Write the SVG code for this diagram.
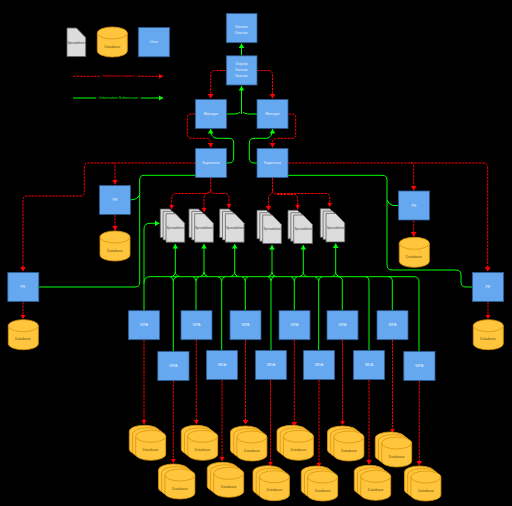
<svg xmlns="http://www.w3.org/2000/svg" xmlns:xlink="http://www.w3.org/1999/xlink" width="512" height="506" viewBox="0 0 512 506">
<style>
text{font-family:"Liberation Sans",Arial,sans-serif;font-size:3.7px;text-anchor:middle;dominant-baseline:central}
.n{fill:#66a8f0;stroke:#2c5a8e;stroke-width:.8}
.nt{fill:#e8f2ff}
.d path,.c path{fill:#ffc53d;stroke:#d9960a;stroke-width:.8}
.dt{fill:#6b5210}
.s{fill:#dcdcdc;stroke:#666;stroke-width:.8}
.st{fill:#444;font-size:3.2px}
.r{fill:none;stroke:#f00;stroke-width:1;stroke-dasharray:2.4 1;marker-end:url(#ar)}
.r0{fill:none;stroke:#f00;stroke-width:1;stroke-dasharray:2.4 1}
.g{fill:none;stroke:#0f0;stroke-width:1;marker-end:url(#ag)}
.g0{fill:none;stroke:#0f0;stroke-width:1}
</style>
<defs>
<marker id="ar" markerUnits="userSpaceOnUse" markerWidth="5" markerHeight="6" refX="4.5" refY="3" orient="auto"><path d="M0,0.2L4.5,3L0,5.8Z" fill="#f00"/></marker>
<marker id="ag" markerUnits="userSpaceOnUse" markerWidth="5" markerHeight="6" refX="4.5" refY="3" orient="auto"><path d="M0,0.2L4.5,3L0,5.8Z" fill="#0f0"/></marker>
<g id="cyl" class="d"><path d="M0,6A15,6 0 0 1 30,6V24A15,6 0 0 1 0,24Z"/><path d="M0,6A15,6 0 0 0 30,6" fill="none"/></g>
<g id="stk" class="c">
<path d="M0,6A15,6 0 0 1 30,6V24A15,6 0 0 1 0,24Z"/>
<path d="M3.2,8.5A15,6 0 0 1 33.2,8.5V26.5A15,6 0 0 1 3.2,26.5Z"/>
<path d="M6.4,11A15,6 0 0 1 36.4,11V29A15,6 0 0 1 6.4,29Z"/><path d="M6.4,11A15,6 0 0 0 36.4,11" fill="none"/>
</g>
<polygon id="sh" class="s" points="0,0 9.5,0 18.7,9.5 18.7,28.5 0,28.5"/>
<g id="ss"><use xlink:href="#sh"/><use xlink:href="#sh" x="2.8" y="2.4"/><use xlink:href="#sh" x="5.7" y="4.7"/></g>
</defs>
<rect width="512" height="506" fill="#000"/>

<g id="connectors">
<path class="r0" d="M73.3,76.3H100"/><path class="r" d="M138,76.3H163"/>
<path class="g0" d="M73,98H96"/><path class="g" d="M141,98H163"/>
<path class="g" d="M241.5,55.5V43.5"/>
<path class="r" d="M225.5,70.5H215Q210.7,70.5 210.7,75V98.5"/>
<path class="r" d="M257.5,70.5H268Q272.5,70.5 272.5,75V98.5"/>
<path class="g0" d="M227,114H234Q239,114 240,112"/>
<path class="g0" d="M257,114H249Q244,114 243,112"/>
<path class="g" d="M241.5,114V86"/>
<path class="r" d="M195,114H191Q187.3,114 187.3,118V134Q187.3,138.3 191,138.3H205Q210.7,138.3 210.7,143V147.5"/>
<path class="r" d="M288.5,114H292Q295.7,114 295.7,118V134Q295.7,138.3 292,138.3H278Q272.5,138.3 272.5,143V147.5"/>
<path class="g" d="M227,163H229Q233.7,163 233.7,158V143Q233.7,138.3 229,138.3H216Q210.7,137 210.7,129"/>
<path class="g" d="M257,163H254Q249.3,163 249.3,158V143Q249.3,138.3 254,138.3H267Q272.5,137 272.5,129"/>
<path class="r" d="M195,163H88Q84.3,163 84.3,167V192Q84.3,196 80,196H27Q23,196 23,200V271.5"/>
<path class="r" d="M113,163Q115,163 115,166V184.5"/>
<path class="r" d="M115,214.5V230.5"/>
<path class="r" d="M23,302V319"/>
<path class="g" d="M130.5,199.7H133Q137,199.7 139.7,195V180Q139.7,175.3 144,175.3H203Q210.7,175.3 210.7,167"/>
<path class="g0" d="M39,287H135Q139.7,287 139.7,282V195"/>
<path class="r" d="M210.7,178V190Q210.7,193.5 207,193.5H176Q171.7,193.5 171.7,198V209"/>
<path class="r" d="M210.7,190Q211,193.5 215,193.5H225Q229,193.5 229,198V208"/>
<path class="r" d="M210,192Q204,193 204,198V212"/>
<path class="r" d="M272.5,178V190Q272.5,194.5 270,195Q268.5,195.5 268.5,198V210.5"/>
<path class="r" d="M272.5,190Q273,194 277,194.5H294Q297.7,195 297.7,199V209"/>
<path class="r" d="M277,193.5H326Q329.7,193.5 329.7,197V207"/>
<path class="r" d="M288.5,163H483Q487.7,163 487.7,168V271.5"/>
<path class="r" d="M411,163Q413.7,163 413.7,166V190.5"/>
<path class="r" d="M413.7,220.5V236.5"/>
<path class="r" d="M488,302V319"/>
<path class="g" d="M472,287H466Q461,287 461,282V275Q461,270 456,270H392Q387,270 387,265V180Q387,175.3 382,175.3H280Q272.5,175.3 272.5,167"/>
<path class="g0" d="M398,205.5H393Q388,204 387,200"/>
<path class="g" d="M144,310V229Q144,223.3 150,223.3H159.5"/>
<path class="g0" d="M144,283Q144,276.7 150,276.7H414Q419,276.7 419,282V352"/>
<path class="g0" d="M173.3,352V281Q173.3,278 170,276.7M173.3,281Q173.3,278 177,276.7"/>
<path class="g0" d="M196,310V281Q196,278 193,276.7M196,281Q196,278 199,276.7"/>
<path class="g0" d="M221.7,350V281Q221.7,278 218,276.7M221.7,281Q221.7,278 225,276.7"/>
<path class="g0" d="M245.3,310V281Q245.3,278 242,276.7M245.3,281Q245.3,278 248,276.7"/>
<path class="g0" d="M271,350V281Q271,278 268,276.7M271,281Q271,278 274,276.7"/>
<path class="g0" d="M294.3,310V281Q294.3,278 291,276.7M294.3,281Q294.3,278 297,276.7"/>
<path class="g0" d="M318.7,350V281Q318.7,278 315,276.7M318.7,281Q318.7,278 322,276.7"/>
<path class="g0" d="M342.3,310V281Q342.3,276.7 338,276.7"/>
<path class="g0" d="M369,350V281Q369,276.7 365,276.7"/>
<path class="g0" d="M392.3,310V281Q392.3,276.7 388,276.7"/>
<path class="g" d="M175.3,272V244"/><path class="g0" d="M175.3,272Q175.3,275.5 171,276.7M175.3,272Q175.3,275.5 180,276.7"/>
<path class="g" d="M204,272V244"/><path class="g0" d="M204,272Q204,275.5 200,276.7M204,272Q204,275.5 208,276.7"/>
<path class="g" d="M234.7,272V244"/><path class="g0" d="M234.7,272Q234.7,275.5 230,276.7M234.7,272Q234.7,275.5 239,276.7"/>
<path class="g" d="M272,272V245"/><path class="g0" d="M272,272Q272,275.5 268,276.7M272,272Q272,275.5 276,276.7"/>
<path class="g" d="M303.3,272V245"/><path class="g0" d="M303.3,272Q303.3,275.5 299,276.7M303.3,272Q303.3,275.5 307.5,276.7"/>
<path class="g" d="M335.7,272V243.5"/><path class="g0" d="M335.7,272Q335.7,275.5 331.5,276.7M335.7,272Q335.7,275.5 340,276.7"/>
<path class="r" d="M144,340V424"/>
<path class="r" d="M196.3,340V424"/>
<path class="r" d="M245.5,340V424.5"/>
<path class="r" d="M294.3,340V426.5"/>
<path class="r" d="M342.5,340V425"/>
<path class="r" d="M392.5,340V433"/>
<path class="r" d="M173.3,381V463"/>
<path class="r" d="M222,380V461"/>
<path class="r" d="M270.5,380V466"/>
<path class="r" d="M319,380V467"/>
<path class="r" d="M369,380V464.5"/>
<path class="r" d="M419.3,381V465.5"/>
</g>

<g id="legend-doc"><use xlink:href="#sh" x="67" y="28"/><text class="st" x="76.5" y="43">Spreadsheet</text></g>
<g id="legend-db"><use xlink:href="#cyl" x="97.3" y="27"/><text class="dt" x="112.3" y="47">Database</text></g>
<g id="legend-user"><rect class="n" x="138.3" y="27.5" width="31.2" height="29.3"/><text class="nt" x="154" y="42">User</text></g>
<g id="legend-request"><text x="118.5" y="76.3" fill="#e00000">Information request</text></g>
<g id="legend-submission"><text x="118.5" y="98" fill="#00e000">Information Submission</text></g>

<g id="division-director"><rect class="n" x="226.3" y="13.5" width="30.7" height="29.2"/><text class="nt" x="241.6" y="27">Division</text><text class="nt" x="241.6" y="32.7">Director</text></g>
<g id="deputy"><rect class="n" x="226.3" y="55.8" width="30.7" height="29.2"/><text class="nt" x="241.6" y="64">Deputy</text><text class="nt" x="241.6" y="70">Division</text><text class="nt" x="241.6" y="75.5">Director</text></g>
<g id="manager-l"><rect class="n" x="195.4" y="99.4" width="31.2" height="29"/><text class="nt" x="211" y="114">Manager</text></g>
<g id="manager-r"><rect class="n" x="257" y="99.4" width="31" height="29"/><text class="nt" x="272.5" y="114">Manager</text></g>
<g id="supervisor-l"><rect class="n" x="195.4" y="148.4" width="31.2" height="29.2"/><text class="nt" x="211" y="163.3">Supervisor</text></g>
<g id="supervisor-r"><rect class="n" x="257" y="148.4" width="31" height="29.2"/><text class="nt" x="272.5" y="163.3">Supervisor</text></g>

<g id="pe-1"><rect class="n" x="99.4" y="185.4" width="31" height="29"/><text class="nt" x="115" y="200">PE</text></g>
<g id="db-1"><use xlink:href="#cyl" x="100" y="231"/><text class="dt" x="115" y="251">Database</text></g>
<g id="pe-2"><rect class="n" x="7.8" y="272.4" width="31" height="29.2"/><text class="nt" x="23" y="287">PE</text></g>
<g id="db-2"><use xlink:href="#cyl" x="8.3" y="319.7"/><text class="dt" x="23" y="339">Database</text></g>
<g id="pe-3"><rect class="n" x="398.4" y="191" width="31" height="29"/><text class="nt" x="414" y="205.5">PE</text></g>
<g id="db-3"><use xlink:href="#cyl" x="399.3" y="237.3"/><text class="dt" x="414" y="257">Database</text></g>
<g id="pe-4"><rect class="n" x="472.4" y="272.4" width="31.2" height="29.2"/><text class="nt" x="488" y="287">PE</text></g>
<g id="db-4"><use xlink:href="#cyl" x="473.3" y="319.7"/><text class="dt" x="488" y="339">Database</text></g>

<g id="ss-1"><use xlink:href="#ss" x="160.3" y="209"/><text class="st" x="175.5" y="228">Spreadsheet</text></g>
<g id="ss-2"><use xlink:href="#ss" x="189" y="209"/><text class="st" x="204" y="228">Spreadsheet</text></g>
<g id="ss-3"><use xlink:href="#ss" x="219.7" y="209"/><text class="st" x="235" y="228">Spreadsheet</text></g>
<g id="ss-4"><use xlink:href="#ss" x="257" y="210.3"/><text class="st" x="272.5" y="229">Spreadsheet</text></g>
<g id="ss-5"><use xlink:href="#ss" x="288" y="210.3"/><text class="st" x="303.5" y="229">Spreadsheet</text></g>
<g id="ss-6"><use xlink:href="#ss" x="320.3" y="208.7"/><text class="st" x="335.7" y="228">Spreadsheet</text></g>

<g id="wpa-1"><rect class="n" x="128.4" y="310.7" width="31.2" height="29"/><text class="nt" x="144" y="325.3">WPA</text></g>
<g id="wpa-2"><rect class="n" x="181" y="310.7" width="31" height="29"/><text class="nt" x="196.5" y="325.3">WPA</text></g>
<g id="wpa-3"><rect class="n" x="230" y="310.7" width="31" height="29"/><text class="nt" x="245.5" y="325.3">WPA</text></g>
<g id="wpa-4"><rect class="n" x="279" y="310.7" width="31" height="29"/><text class="nt" x="294.5" y="325.3">WPA</text></g>
<g id="wpa-5"><rect class="n" x="327" y="310.7" width="31" height="29"/><text class="nt" x="342.5" y="325.3">WPA</text></g>
<g id="wpa-6"><rect class="n" x="377" y="310.7" width="31" height="29"/><text class="nt" x="392.5" y="325.3">WPA</text></g>
<g id="wpa-7"><rect class="n" x="157.8" y="351.4" width="31.2" height="29.2"/><text class="nt" x="173.3" y="366.3">WPA</text></g>
<g id="mda-1"><rect class="n" x="206.4" y="350.4" width="31.2" height="29.2"/><text class="nt" x="222" y="365">MDA</text></g>
<g id="mda-2"><rect class="n" x="255.4" y="350.4" width="31" height="29.2"/><text class="nt" x="271" y="365">MDA</text></g>
<g id="mda-3"><rect class="n" x="303.4" y="350.4" width="31.2" height="29.2"/><text class="nt" x="319" y="365">MDA</text></g>
<g id="mda-4"><rect class="n" x="353.4" y="350.4" width="31.2" height="29.2"/><text class="nt" x="369" y="365">MDA</text></g>
<g id="wpa-8"><rect class="n" x="403.8" y="351.4" width="31.2" height="29.2"/><text class="nt" x="419.3" y="366.3">WPA</text></g>

<g id="dbs-1"><use xlink:href="#stk" x="129.3" y="425.3"/><text class="dt" x="150.5" y="450">Database</text></g>
<g id="dbs-2"><use xlink:href="#stk" x="181.3" y="425.3"/><text class="dt" x="202.5" y="450">Database</text></g>
<g id="dbs-3"><use xlink:href="#stk" x="230.5" y="426"/><text class="dt" x="252" y="450.5">Database</text></g>
<g id="dbs-4"><use xlink:href="#stk" x="277" y="425.3"/><text class="dt" x="298.3" y="450">Database</text></g>
<g id="dbs-5"><use xlink:href="#stk" x="327.5" y="426"/><text class="dt" x="349" y="451">Database</text></g>
<g id="dbs-6"><use xlink:href="#stk" x="375.3" y="432"/><text class="dt" x="396.7" y="456.5">Database</text></g>
<g id="dbs-7"><use xlink:href="#stk" x="158.5" y="464"/><text class="dt" x="180" y="488.5">Database</text></g>
<g id="dbs-8"><use xlink:href="#stk" x="207.3" y="462.3"/><text class="dt" x="228.7" y="487">Database</text></g>
<g id="dbs-9"><use xlink:href="#stk" x="253" y="465.7"/><text class="dt" x="274.3" y="490">Database</text></g>
<g id="dbs-10"><use xlink:href="#stk" x="301.3" y="466"/><text class="dt" x="322.7" y="490.5">Database</text></g>
<g id="dbs-11"><use xlink:href="#stk" x="354.3" y="465.3"/><text class="dt" x="375.7" y="490">Database</text></g>
<g id="dbs-12"><use xlink:href="#stk" x="404.5" y="466"/><text class="dt" x="426" y="490.5">Database</text></g>
</svg>
